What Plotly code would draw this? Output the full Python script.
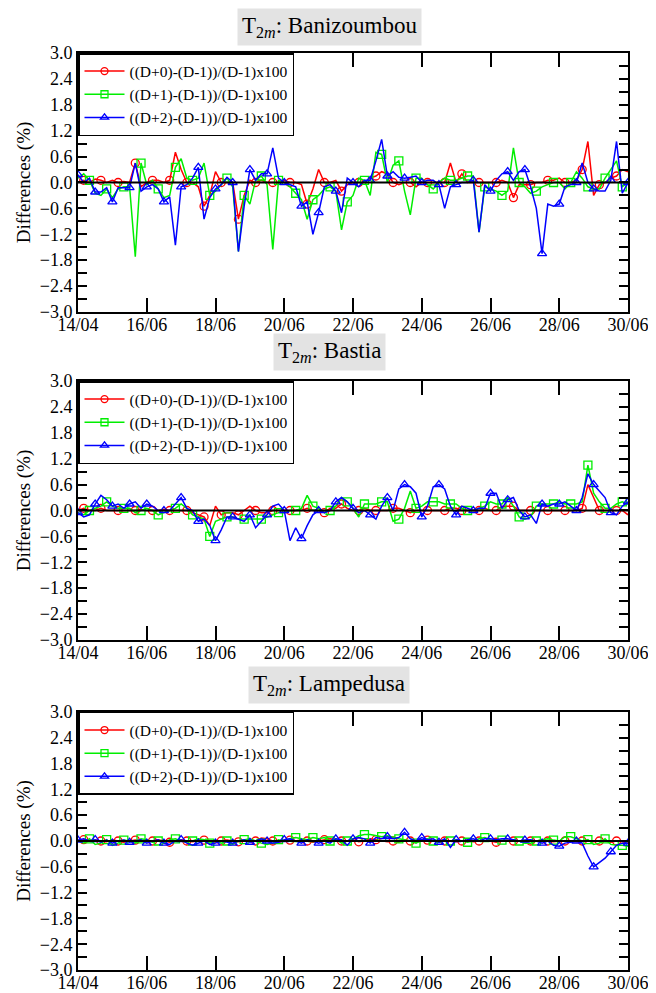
import plotly.graph_objects as go

# ---- data (4-hourly samples, 14 June 00h .. 30 June 00h) ----
n_pts = 97
days = [14 + i / 6 for i in range(n_pts)]

tick_vals = [14, 16, 18, 20, 22, 24, 26, 28, 30]
tick_text = ["14/04", "16/06", "18/06", "20/06", "22/06", "24/06", "26/06", "28/06", "30/06"]

series_names = ["((D+0)-(D-1))/(D-1)x100", "((D+1)-(D-1))/(D-1)x100", "((D+2)-(D-1))/(D-1)x100"]
stations = ["Banizoumbou", "Bastia", "Lampedusa"]

ban_d0 = [0.0, 0.05, 0.0, 0.08, 0.05, 0.0, 0.05, 0.0, 0.02, 0.0,
          0.45, -0.1, 0.0, 0.05, 0.05, 0.0, 0.05, 0.7, 0.3, 0.0,
          0.0, -0.1, -0.55, -0.3, 0.25, 0.0, 0.0, 0.0, -0.85, -0.3,
          0.05, 0.0, 0.05, 0.0, 0.0, 0.0, 0.05, 0.0, 0.0, -0.05,
          -0.5, -0.15, 0.3, 0.0, 0.0, 0.05, -0.2, -0.05, 0.0, 0.0,
          0.0, 0.1, 0.15, 0.25, 0.2, 0.0, -0.05, 0.0, 0.0, -0.1,
          0.0, 0.0, 0.0, 0.0, 0.0, 0.45, 0.0, 0.2, 0.0, 0.0,
          0.0, 0.0, 0.0, 0.0, 0.05, 0.0, -0.35, -0.05, -0.05, -0.05,
          0.0, 0.0, 0.05, 0.05, 0.1, 0.0, 0.0, 0.05, 0.3, 0.95,
          -0.3, -0.05, 0.0, 0.1, 0.15, 0.3, 0.25]
ban_d1 = [0.1, 0.2, 0.05, -0.25, -0.3, -0.15, -0.35, -0.15, -0.1, -0.1,
          -1.72, 0.45, -0.05, 0.05, -0.15, -0.35, -0.3, 0.35, 0.55, 0.1,
          0.05, 0.1, 0.45, -0.3, -0.2, -0.05, 0.1, -0.1, -1.6, -0.3,
          -0.5, 0.05, 0.15, -0.05, -1.55, 0.05, 0.0, -0.1, -0.25, -0.4,
          -0.85, -0.4, -0.3, -0.15, -0.1, -0.2, -1.1, -0.45, -0.3, 0.1,
          0.05, -0.3, 0.7, 0.65, 0.0, 0.4, 0.5, -0.2, -0.75, 0.1,
          0.1, -0.05, -0.15, 0.0, 0.1, 0.05, 0.05, 0.1, 0.15, 0.15,
          -1.15, -0.1, -0.15, -0.2, -0.3, -0.2, 0.8, 0.0, -0.1, -0.25,
          -0.2, -0.1, -0.05, 0.0, 0.0, -0.15, 0.0, 0.25, 0.1, -0.1,
          -0.15, -0.15, 0.1, 0.3, 0.5, -0.1, 0.0]
ban_d2 = [0.18, 0.0, 0.1, -0.22, -0.22, -0.12, -0.45, -0.12, -0.12, -0.12,
          0.45, -0.2, -0.1, -0.05, -0.15, -0.45, -0.33, -1.45, -0.1, -0.05,
          0.1, 0.35, -0.85, -0.35, -0.15, -0.05, 0.12, 0.0, -1.6, -0.55,
          0.3, 0.05, 0.2, 0.2, 0.8, 0.1, 0.0, -0.05, -0.1, -0.55,
          -0.45, -1.2, -0.7, -0.1, -0.05, -0.2, -0.7, 0.1, 0.0, -0.1,
          0.05, 0.05, 0.5, 1.0, 0.15, 0.25, 0.12, 0.1, 0.12, 0.15,
          0.0, 0.05, 0.05, -0.05, -0.6, -0.1, -0.05, 0.0, 0.0, 0.05,
          -1.15, -0.05, -0.2, 0.05, 0.2, 0.25, 0.05, 0.25, 0.3, -0.1,
          -0.6, -1.65, -0.5, -0.55, -0.5, -0.1, -0.05, 0.0, 0.45, 0.0,
          -0.15, -0.2, -0.2, 0.05, 0.95, -0.25, 0.0]

bas_d0 = [0.0, 0.05, 0.0, 0.0, 0.05, 0.0, 0.0, 0.0, 0.0, 0.0,
          0.0, 0.02, 0.0, 0.0, 0.0, 0.03, 0.0, 0.0, 0.0, 0.0,
          -0.05, -0.1, -0.15, -0.35, 0.1, -0.1, -0.05, -0.05, -0.1, 0.0,
          0.1, 0.0, -0.05, -0.05, 0.0, 0.0, 0.0, 0.0, 0.0, 0.0,
          0.05, 0.0, 0.0, -0.05, 0.05, 0.05, 0.15, 0.05, 0.0, 0.0,
          0.05, 0.0, 0.0, 0.0, 0.0, 0.05, 0.05, 0.0, -0.05, 0.0,
          0.0, 0.0, 0.0, 0.0, 0.0, 0.05, 0.05, 0.0, 0.0, 0.0,
          0.0, 0.05, 0.0, 0.0, 0.1, 0.1, 0.1, 0.0, 0.0, 0.0,
          0.0, 0.0, 0.0, 0.0, 0.0, 0.0, 0.0, 0.0, 0.05, 0.6,
          0.3, 0.0, 0.0, 0.0, 0.0, 0.0, -0.1]
bas_d1 = [-0.05, -0.1, 0.0, 0.05, 0.1, 0.2, 0.1, 0.05, 0.05, 0.05,
          -0.05, 0.0, 0.05, 0.0, -0.1, -0.05, 0.0, 0.05, 0.15, 0.05,
          -0.1, -0.15, -0.2, -0.6, -0.25, -0.2, -0.15, -0.15, -0.2, -0.2,
          -0.2, -0.2, -0.2, -0.15, -0.1, -0.05, -0.05, 0.0, 0.0, 0.05,
          0.35, 0.1, 0.05, -0.05, 0.0, 0.1, 0.3, 0.2, 0.05, -0.15,
          0.15, 0.15, 0.15, 0.2, 0.2, -0.25, -0.2, 0.05, 0.45, 0.05,
          0.1, 0.2, 0.2, 0.2, 0.15, 0.15, 0.15, 0.05, 0.0, 0.0,
          0.05, 0.1, 0.2, 0.15, 0.15, 0.3, 0.1, -0.15, -0.2, -0.15,
          0.1, 0.15, 0.15, 0.15, 0.2, 0.15, 0.15, 0.15, 0.2, 1.05,
          0.4, 0.2, 0.05, 0.05, 0.15, 0.2, 0.15]
bas_d2 = [-0.05, -0.15, -0.1, 0.15, 0.35, 0.25, 0.1, 0.15, 0.05, 0.15,
          0.2, 0.05, 0.15, 0.1, 0.0, 0.0, 0.0, 0.15, 0.3, 0.05,
          0.0, -0.25, -0.2, -0.35, -0.7, -0.45, -0.15, -0.15, -0.2, -0.25,
          -0.1, -0.4, -0.25, -0.1, 0.1, 0.15, 0.0, -0.7, -0.4, -0.65,
          -0.35, -0.1, 0.0, -0.05, 0.0, 0.2, 0.3, 0.2, 0.05, -0.05,
          0.0, -0.1, -0.2, 0.1, 0.3, 0.0, 0.5, 0.6, 0.55, 0.4,
          -0.15, 0.1, 0.55, 0.6, 0.5, 0.1, -0.1, 0.1, 0.05, 0.0,
          0.05, 0.05, 0.4, 0.4, 0.05, 0.25, 0.3, 0.0, -0.15, -0.1,
          -0.3, 0.15, 0.1, 0.15, 0.15, 0.2, 0.1, 0.0, 0.3, 0.85,
          0.6, 0.45, 0.3, -0.05, -0.1, 0.1, 0.2]

lam_d0 = [0.0, 0.03, 0.0, 0.02, 0.0, -0.02, 0.03, 0.0, -0.03, 0.0,
          0.02, 0.0, -0.02, 0.0, 0.03, 0.0, -0.03, 0.0, 0.03, 0.0,
          -0.02, 0.0, 0.02, 0.0, -0.03, 0.0, 0.02, 0.0, -0.02, 0.0,
          0.03, 0.0, 0.07, 0.05, 0.0, -0.03, 0.0, 0.02, 0.0, 0.03,
          0.0, -0.03, 0.0, 0.03, 0.05, 0.03, 0.0, 0.0, 0.03, -0.02,
          0.0, 0.05, 0.03, 0.0, -0.02, 0.0, -0.03, 0.03, 0.0, -0.03,
          0.0, 0.02, 0.0, -0.03, 0.0, 0.0, -0.02, 0.0, 0.0, -0.02,
          0.0, 0.0, 0.0, -0.03, 0.0, 0.02, 0.0, 0.0, -0.03, 0.0,
          0.0, 0.02, 0.0, -0.02, 0.0, 0.0, 0.0, -0.02, 0.0, 0.0,
          -0.02, 0.0, 0.0, -0.03, 0.0, -0.02, -0.05]
lam_d1 = [0.0, -0.05, 0.05, -0.08, -0.05, 0.03, -0.1, -0.05, 0.02, 0.0,
          -0.05, 0.05, 0.03, -0.03, 0.0, -0.05, 0.03, 0.05, 0.0, -0.03,
          0.0, 0.05, 0.03, -0.05, 0.0, -0.05, 0.0, -0.08, 0.0, 0.03,
          0.05, 0.0, -0.05, -0.08, -0.05, 0.03, 0.0, 0.05, 0.08, 0.05,
          0.03, 0.08, 0.05, 0.08, 0.0, 0.05, -0.05, 0.0, 0.05, 0.12,
          0.15, 0.15, 0.12, 0.1, 0.12, 0.08, 0.05, 0.03, 0.0, -0.05,
          0.02, 0.05, 0.0, -0.03, 0.0, 0.0, 0.03, 0.0, -0.03, 0.0,
          0.05, 0.08, 0.03, 0.0, 0.02, 0.0, 0.03, 0.0, -0.05, -0.05,
          0.0, 0.03, 0.05, 0.02, 0.0, 0.1, 0.1, 0.05, 0.0, 0.03,
          -0.08, -0.05, 0.05, -0.08, -0.1, -0.1, -0.12]
lam_d2 = [0.02, 0.05, 0.0, 0.03, -0.03, 0.02, -0.05, 0.0, 0.02, -0.03,
          0.0, 0.03, -0.05, 0.0, 0.03, -0.05, -0.08, 0.0, 0.03, -0.05,
          -0.1, -0.05, 0.0, -0.08, -0.05, 0.0, -0.03, -0.05, 0.0, 0.03,
          -0.03, 0.0, 0.05, 0.0, -0.05, -0.03, 0.03, 0.05, 0.0, -0.05,
          0.03, 0.0, -0.05, 0.0, -0.05, 0.05, 0.03, -0.1, 0.05, 0.08,
          0.05, -0.05, 0.08, 0.05, 0.1, 0.05, 0.08, 0.2, 0.05, 0.0,
          0.08, 0.03, 0.05, -0.03, 0.05, -0.15, 0.03, 0.0, 0.03, 0.05,
          0.0, 0.05, 0.05, 0.03, 0.05, 0.05, 0.03, 0.0, 0.02, 0.03,
          0.0, -0.05, 0.0, -0.1, -0.12, -0.05, -0.03, 0.0, -0.05, -0.35,
          -0.6, -0.5, -0.4, -0.25, -0.1, -0.05, -0.05]

panels = [(ban_d0, ban_d1, ban_d2), (bas_d0, bas_d1, bas_d2), (lam_d0, lam_d1, lam_d2)]

# ---- style ----
FONT = "Liberation Serif, Times New Roman, serif"
colors = ["#ff0000", "#00ee00", "#0000ff"]
symbols = ["circle-open", "square-open", "triangle-up-open"]
marker_offsets = [1, 2, 0]
marker_step = 3
domains = [[0.7176, 1.0], [0.3599, 0.6423], [0.0, 0.2814]]
title_y = [1.0285, 0.6735, 0.3110]

fig = go.Figure()
for p, series in enumerate(panels):
    ax = "" if p == 0 else str(p + 1)
    leg = "legend" if p == 0 else "legend" + str(p + 1)
    for s, vals in enumerate(series):
        fig.add_trace(go.Scatter(
            x=days, y=vals, mode="lines", xaxis="x" + ax, yaxis="y" + ax,
            line=dict(color=colors[s], width=1.5), showlegend=False, hoverinfo="skip"))
        off = marker_offsets[s]
        fig.add_trace(go.Scatter(
            x=days[off::marker_step], y=vals[off::marker_step], mode="markers",
            xaxis="x" + ax, yaxis="y" + ax,
            marker=dict(symbol=symbols[s], size=8, color=colors[s], line=dict(width=1.3, color=colors[s])),
            showlegend=False, hoverinfo="skip"))
        fig.add_trace(go.Scatter(
            x=[None], y=[None], mode="lines+markers", name=series_names[s],
            xaxis="x" + ax, yaxis="y" + ax, legend=leg,
            line=dict(color=colors[s], width=1.5),
            marker=dict(symbol=symbols[s], size=7, color=colors[s], line=dict(width=1.3, color=colors[s]))))

# the page body adds an 8px offset, so the figure is 8px smaller than the window
layout = dict(
    width=648, height=985,
    margin=dict(l=70, r=28, t=45, b=23, autoexpand=False),
    paper_bgcolor="white", plot_bgcolor="white",
    font=dict(family=FONT, size=18, color="black"),
    shapes=[], annotations=[],
)
for p in range(3):
    ax = "" if p == 0 else str(p + 1)
    layout["xaxis" + ax] = dict(
        domain=[0, 1], anchor="y" + ax, range=[14, 30], automargin=False,
        tickmode="array", tickvals=tick_vals, ticktext=tick_text,
        ticks="inside", ticklen=14, tickwidth=1.5, tickcolor="black",
        ticklabelstandoff=-5,
        showline=True, linecolor="black", linewidth=2, mirror="ticks",
        showgrid=False, zeroline=False, tickfont=dict(family=FONT, size=18))
    layout["yaxis" + ax] = dict(
        domain=domains[p], anchor="x" + ax, range=[-3, 3], automargin=False,
        tickmode="linear", tick0=-3, dtick=0.6, tickformat=".1f",
        ticks="inside", ticklen=9, tickwidth=1.5, tickcolor="black",
        minor=dict(dtick=0.3, tick0=-3, ticks="inside", ticklen=9, tickwidth=1.5, tickcolor="black"),
        showline=True, linecolor="black", linewidth=2, mirror="ticks",
        showgrid=False, zeroline=False, tickfont=dict(family=FONT, size=18),
        title=dict(text="Differences (%)", font=dict(family=FONT, size=19), standoff=4))
    leg = "legend" if p == 0 else "legend" + str(p + 1)
    layout[leg] = dict(
        x=0, y=domains[p][1], xanchor="left", yanchor="top",
        bgcolor="white", bordercolor="black", borderwidth=1.5,
        font=dict(family=FONT, size=15.5), tracegroupgap=0, itemwidth=40)
    layout["shapes"].append(dict(
        type="line", xref="x" + ax + " domain", yref="y" + ax, x0=0, x1=1, y0=0, y1=0,
        line=dict(color="black", width=1.8), layer="above"))
    layout["annotations"].append(dict(
        text="T<sub>2<i>m</i></sub>: " + stations[p], xref="paper", yref="paper",
        x=0.4564, y=title_y[p], xanchor="center", yanchor="middle", showarrow=False,
        bgcolor="#e3e3e3", borderpad=4, font=dict(family=FONT, size=23, color="black")))

fig.update_layout(**layout)
fig.write_html("out.html")
